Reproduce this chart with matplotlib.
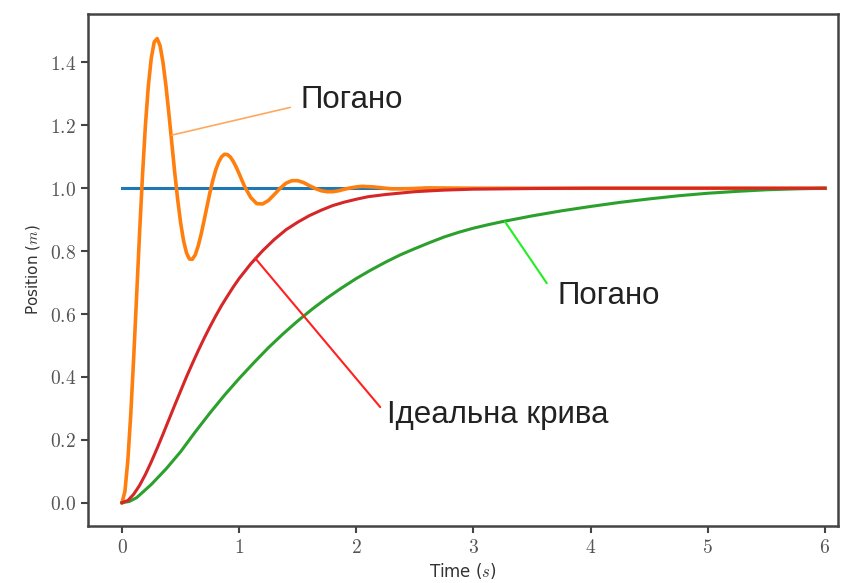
import numpy as np
import matplotlib
matplotlib.use('Agg')
import matplotlib.pyplot as plt
from matplotlib.ticker import FuncFormatter

plt.rcParams['mathtext.fontset'] = 'cm'

# step target
t_step = [0.0, 6.0]
y_step = [1.0, 1.0]

# underdamped response
t_under = [0.0, 0.025, 0.05, 0.075, 0.1, 0.125, 0.15, 0.175, 0.2, 0.225, 0.25,
           0.275, 0.3, 0.325, 0.35, 0.375, 0.4, 0.425, 0.45, 0.475, 0.5, 0.525,
           0.55, 0.575, 0.6, 0.625, 0.65, 0.675, 0.7, 0.725, 0.75, 0.775, 0.8,
           0.825, 0.85, 0.875, 0.9, 0.925, 0.95, 0.975, 1.0, 1.025, 1.05, 1.1,
           1.15, 1.2, 1.25, 1.3, 1.35, 1.4, 1.45, 1.5, 1.55, 1.6, 1.65, 1.7,
           1.75, 1.8, 1.85, 1.9, 1.95, 2.0, 2.05, 2.1, 2.15, 2.2, 2.3, 2.4, 2.5,
           2.6, 3.0, 4.0, 5.0, 6.0]
y_under = [0.0, 0.036, 0.135, 0.282, 0.463, 0.659, 0.857, 1.041, 1.201, 1.326,
           1.414, 1.465, 1.476, 1.453, 1.400, 1.326, 1.238, 1.144, 1.050, 0.965,
           0.891, 0.834, 0.795, 0.775, 0.774, 0.788, 0.816, 0.853, 0.896, 0.941,
           0.985, 1.025, 1.058, 1.083, 1.100, 1.108, 1.107, 1.099, 1.085, 1.067,
           1.046, 1.024, 1.003, 0.970, 0.951, 0.950, 0.961, 0.980, 1.000, 1.016,
           1.024, 1.024, 1.018, 1.008, 0.999, 0.992, 0.989, 0.989, 0.992, 0.997,
           1.001, 1.004, 1.006, 1.005, 1.004, 1.002, 0.998, 0.998, 0.999, 1.001,
           1.0, 1.0, 1.0, 1.0]

# overdamped response
t_over = [0.0, 0.0625, 0.125, 0.25, 0.375, 0.5, 0.625, 0.75, 0.875, 1.0, 1.125,
          1.25, 1.375, 1.5, 1.625, 1.75, 1.875, 2.0, 2.125, 2.25, 2.375, 2.5,
          2.625, 2.75, 2.875, 3.0, 3.125, 3.25, 3.5, 3.75, 4.0, 4.25, 4.5,
          4.75, 5.0, 5.25, 5.5, 5.75, 6.0]
y_over = [0.0, 0.004, 0.016, 0.058, 0.107, 0.162, 0.225, 0.285, 0.342, 0.395,
          0.445, 0.493, 0.537, 0.578, 0.616, 0.651, 0.683, 0.713, 0.740, 0.765,
          0.788, 0.808, 0.827, 0.845, 0.860, 0.873, 0.884, 0.894, 0.912, 0.928,
          0.942, 0.955, 0.966, 0.976, 0.984, 0.990, 0.995, 0.998, 1.0]

# ideal (critically damped) response
t_ideal = [0.0, 0.05, 0.1, 0.15, 0.2, 0.25, 0.3, 0.35, 0.4, 0.45, 0.5, 0.55,
           0.6, 0.65, 0.7, 0.75, 0.8, 0.85, 0.9, 0.95, 1.0, 1.1, 1.2, 1.3, 1.4,
           1.5, 1.6, 1.7, 1.8, 1.9, 2.0, 2.1, 2.25, 2.5, 2.75, 3.0, 3.5, 4.0,
           5.0, 6.0]
y_ideal = [0.0, 0.007, 0.027, 0.055, 0.090, 0.130, 0.173, 0.218, 0.264, 0.310,
           0.355, 0.400, 0.442, 0.483, 0.522, 0.559, 0.594, 0.627, 0.657, 0.686,
           0.713, 0.760, 0.801, 0.837, 0.868, 0.892, 0.913, 0.930, 0.945, 0.956,
           0.965, 0.973, 0.980, 0.989, 0.994, 0.997, 0.999, 1.0, 1.0, 1.0]

x_ticks = [0, 1, 2, 3, 4, 5, 6]
y_ticks = [0.0, 0.2, 0.4, 0.6, 0.8, 1.0, 1.2, 1.4]

fig = plt.figure(figsize=(8.48, 5.83), dpi=100)
ax = fig.add_axes([0.1038, 0.0978, 0.8842, 0.8782])

ax.plot(t_step, y_step, color='#1f77b4', lw=2.2)
ax.plot(t_under, y_under, color='#ff7f0e', lw=2.6)
ax.plot(t_over, y_over, color='#2ca02c', lw=2.2)
ax.plot(t_ideal, y_ideal, color='#d62728', lw=2.2)

ax.set_xlim(-0.29, 6.11)
ax.set_ylim(-0.074, 1.554)
ax.set_xticks(x_ticks)
ax.set_yticks(y_ticks)
ax.xaxis.set_major_formatter(FuncFormatter(lambda v, p: r'$%d$' % v))
ax.yaxis.set_major_formatter(FuncFormatter(lambda v, p: r'$%.1f$' % v))
ax.tick_params(labelsize=14, labelcolor='#555555', color='#444444',
               length=5, width=1.5)
for s in ax.spines.values():
    s.set_color('#444444')
    s.set_linewidth(1.8)

ax.set_xlabel(r'Time ($s$)', fontsize=12, color='#333333', labelpad=3)
ax.set_ylabel(r'Position ($m$)', fontsize=11, color='#333333', labelpad=6)

txt = dict(fontsize=22.5, family='Liberation Sans', color='#222222',
           ha='left', va='center')
line = dict(arrowstyle='-', shrinkA=0, shrinkB=0)

ax.annotate('', xy=(0.427, 1.169), xytext=(1.436, 1.257),
            arrowprops=dict(line, color='#ffa860', lw=1.2))
ax.text(1.52, 1.28, 'Погано', **txt)

ax.annotate('', xy=(3.27, 0.893), xytext=(3.626, 0.698),
            arrowprops=dict(line, color='#22ee22', lw=1.5))
ax.text(3.72, 0.657, 'Погано', **txt)

ax.annotate('', xy=(1.138, 0.777), xytext=(2.204, 0.304),
            arrowprops=dict(line, color='#ff2020', lw=1.5))
ax.text(2.265, 0.28, 'Ідеальна крива', **txt)

fig.savefig('out.png', dpi=100)
